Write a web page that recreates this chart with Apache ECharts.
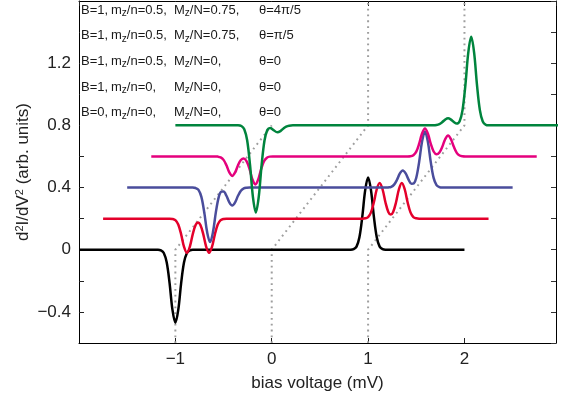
<!DOCTYPE html>
<html>
<head>
<meta charset="utf-8">
<script src="https://cdn.jsdelivr.net/npm/echarts@6/dist/echarts.min.js"></script>
<style>
html, body { margin: 0; padding: 0; background: #fff; }
#chart { width: 565px; height: 403px; }
</style>
</head>
<body>
<div id="chart"></div>
<script>
// curves, each offset by 0.2 above the previous one
const curveB0 = [
  [-2, 0], [-1.18, 0], [-1.15, -0.004], [-1.12, -0.021], [-1.09, -0.081], [-1.06, -0.215], [-1.03, -0.387],
  [-1, -0.47], [-0.97, -0.387], [-0.94, -0.215], [-0.91, -0.081], [-0.88, -0.021], [-0.85, -0.004], [-0.82, 0],
  [0.82, 0], [0.85, 0.004], [0.88, 0.02], [0.91, 0.08], [0.94, 0.213], [0.97, 0.383], [1, 0.465],
  [1.03, 0.383], [1.06, 0.213], [1.09, 0.08], [1.12, 0.02], [1.15, 0.004], [1.18, 0], [2, 0]
];
const curveB1m0 = [
  [-1.75, 0.2], [-1.06, 0.2], [-1.03, 0.198], [-1.0, 0.19], [-0.97, 0.162], [-0.94, 0.099], [-0.91, 0.019],
  [-0.88, -0.02], [-0.85, 0.019], [-0.82, 0.099], [-0.79, 0.159], [-0.765, 0.175], [-0.74, 0.159], [-0.71, 0.099],
  [-0.68, 0.019], [-0.65, -0.02], [-0.62, 0.019], [-0.59, 0.099], [-0.56, 0.162], [-0.53, 0.19], [-0.5, 0.198],
  [-0.47, 0.2], [0.94, 0.2], [0.97, 0.202], [1.0, 0.21], [1.03, 0.24], [1.06, 0.305], [1.09, 0.389], [1.12, 0.43],
  [1.15, 0.389], [1.18, 0.305], [1.21, 0.243], [1.235, 0.226], [1.26, 0.243], [1.29, 0.305], [1.32, 0.389],
  [1.35, 0.43], [1.38, 0.389], [1.41, 0.305], [1.44, 0.24], [1.47, 0.21], [1.5, 0.202], [1.53, 0.2], [2.25, 0.2]
];
const curveB1m5 = [
  [-1.5, 0.4], [-0.82, 0.4], [-0.79, 0.397], [-0.76, 0.385], [-0.73, 0.34], [-0.7, 0.24], [-0.67, 0.112],
  [-0.64, 0.05], [-0.61, 0.112], [-0.58, 0.24], [-0.55, 0.338], [-0.525, 0.373], [-0.5, 0.375], [-0.47, 0.347],
  [-0.44, 0.305], [-0.41, 0.285], [-0.38, 0.305], [-0.35, 0.347], [-0.32, 0.38], [-0.29, 0.395], [-0.26, 0.399],
  [-0.23, 0.4], [1.18, 0.4], [1.21, 0.401], [1.24, 0.405], [1.27, 0.419], [1.3, 0.45], [1.33, 0.491], [1.36, 0.51],
  [1.39, 0.491], [1.42, 0.451], [1.45, 0.424], [1.475, 0.427], [1.5, 0.463], [1.53, 0.565], [1.56, 0.696],
  [1.59, 0.76], [1.62, 0.696], [1.65, 0.565], [1.68, 0.462], [1.71, 0.416], [1.74, 0.403], [1.77, 0.4], [2.5, 0.4]
];
const curveTheta1 = [
  [-1.25, 0.6], [-0.59, 0.6], [-0.56, 0.599], [-0.53, 0.594], [-0.5, 0.578], [-0.47, 0.543], [-0.44, 0.497],
  [-0.41, 0.475], [-0.38, 0.497], [-0.35, 0.543], [-0.32, 0.577], [-0.29, 0.587], [-0.26, 0.568], [-0.23, 0.518],
  [-0.2, 0.452], [-0.17, 0.42], [-0.14, 0.452], [-0.11, 0.518], [-0.08, 0.569], [-0.05, 0.592], [-0.02, 0.599],
  [0.01, 0.6], [1.41, 0.6], [1.44, 0.601], [1.47, 0.608], [1.5, 0.631], [1.53, 0.682], [1.56, 0.748], [1.59, 0.78],
  [1.62, 0.748], [1.65, 0.682], [1.68, 0.632], [1.71, 0.614], [1.74, 0.625], [1.77, 0.662], [1.8, 0.711],
  [1.83, 0.735], [1.86, 0.711], [1.89, 0.662], [1.92, 0.623], [1.95, 0.606], [1.98, 0.601], [2.01, 0.6], [2.75, 0.6]
];
const curveTheta4 = [
  [-1.0, 0.8], [-0.35, 0.8], [-0.315, 0.796], [-0.285, 0.775], [-0.255, 0.704], [-0.225, 0.544], [-0.195, 0.339],
  [-0.165, 0.24], [-0.135, 0.339], [-0.105, 0.544], [-0.075, 0.703], [-0.045, 0.771], [-0.015, 0.783],
  [0.015, 0.771], [0.06, 0.755], [0.09, 0.763], [0.12, 0.779], [0.15, 0.792], [0.18, 0.798], [0.22, 0.8],
  [1.65, 0.8], [1.68, 0.8], [1.71, 0.802], [1.74, 0.808], [1.77, 0.821], [1.8, 0.837], [1.83, 0.845],
  [1.86, 0.837], [1.89, 0.822], [1.92, 0.812], [1.95, 0.827], [1.98, 0.898], [2.01, 1.061], [2.04, 1.269],
  [2.07, 1.37], [2.1, 1.269], [2.13, 1.061], [2.16, 0.898], [2.19, 0.825], [2.22, 0.804], [2.25, 0.8], [3.0, 0.8]
];

// gray dotted guide lines
const guideA = [[-1, -0.6], [-1, 0], [0, 0.8]];
const guideB = [[0, -0.6], [0, 0], [1, 0.8], [1, 1.6]];
const guideC = [[1, -0.6], [1, 0], [2, 0.8], [2, 1.6]];

// legend rows, top to bottom, split in columns
const labelRows = [
  ['B=1,', 'm{sub|z}/n=0.5,', 'M{sub|z}/N=0.75,', 'θ=4π/5'],
  ['B=1,', 'm{sub|z}/n=0.5,', 'M{sub|z}/N=0.75,', 'θ=π/5'],
  ['B=1,', 'm{sub|z}/n=0.5,', 'M{sub|z}/N=0,', 'θ=0'],
  ['B=1,', 'm{sub|z}/n=0,', 'M{sub|z}/N=0,', 'θ=0'],
  ['B=0,', 'm{sub|z}/n=0,', 'M{sub|z}/N=0,', 'θ=0']
];

const font = '"Liberation Sans", Arial, Helvetica, sans-serif';
const chart = echarts.init(document.getElementById('chart'));

function minus(v) {
  return v < 0 ? '\u2212' + String(-v) : String(v);
}

const colX = [81, 111, 174, 259];
const rowY = [10, 35.5, 61, 87, 112.5];
// white legend box: hides the axis ticks underneath, curves stay on top
const graphics = [{
  type: 'rect',
  z: 1,
  shape: { x: 80, y: 2, width: 232, height: 126 },
  style: { fill: '#fff' }
}];
labelRows.forEach((row, r) => {
  row.forEach((t, c) => {
    graphics.push({
      type: 'text',
      x: colX[c],
      y: rowY[r],
      z: 100,
      style: {
        text: t,
        fontSize: 13,
        fontFamily: font,
        fill: '#1a1a1a',
        verticalAlign: 'middle',
        rich: {
          sub: { fontSize: 10, fontFamily: font, fill: '#1a1a1a', padding: [7, 0, 0, 0] }
        }
      }
    });
  });
});

function curve(data, color) {
  return {
    type: 'line',
    data: data,
    showSymbol: false,
    smooth: 0.35,
    lineStyle: { color: color, width: 2.5 },
    z: 5
  };
}
function guide(data) {
  return {
    type: 'line',
    data: data,
    showSymbol: false,
    lineStyle: { color: '#9e9e9e', width: 2, type: [1.8, 4] },
    z: 2
  };
}

const axisLine = { onZero: false, lineStyle: { color: '#000', width: 1 } };

const option = {
  animation: false,
  grid: { left: 79, right: 9, top: 1, bottom: 60 },
  xAxis: [{
    type: 'value',
    min: -2,
    max: 2.95,
    interval: 1,
    name: 'bias voltage (mV)',
    nameLocation: 'middle',
    nameGap: 32,
    nameTextStyle: { fontSize: 17, fontFamily: font, color: '#222' },
    axisLine: axisLine,
    axisTick: { inside: true, length: 5, lineStyle: { color: '#222' } },
    axisLabel: {
      fontSize: 17, fontFamily: font, color: '#222', margin: 8,
      showMinLabel: false, showMaxLabel: false,
      formatter: minus
    },
    splitLine: { show: false }
  }, {
    type: 'value',
    position: 'top',
    min: -2,
    max: 2.95,
    interval: 1,
    axisLine: axisLine,
    axisTick: { inside: true, length: 5, lineStyle: { color: '#222' } },
    axisLabel: { show: false },
    splitLine: { show: false }
  }],
  yAxis: [{
    type: 'value',
    min: -0.6,
    max: 1.6,
    interval: 0.2,
    name: 'd{sup|2}I/dV{sup|2} (arb. units)',
    nameLocation: 'middle',
    nameGap: 46,
    nameMoveOverlap: false,
    nameTextStyle: {
      fontSize: 17, fontFamily: font, color: '#222',
      rich: { sup: { fontSize: 11, fontFamily: font, color: '#222', padding: [0, 0, 8, 0] } }
    },
    axisLine: axisLine,
    axisTick: { inside: true, length: 5, lineStyle: { color: '#222' } },
    axisLabel: {
      fontSize: 17, fontFamily: font, color: '#222', margin: 8,
      showMinLabel: false, showMaxLabel: false,
      formatter: function (v) {
        const r = Math.round(v * 10) / 10;
        const q = r / 0.4;
        if (Math.abs(q - Math.round(q)) > 1e-6) return '';
        return minus(r);
      }
    },
    splitLine: { show: false }
  }, {
    type: 'value',
    position: 'right',
    min: -0.6,
    max: 1.6,
    interval: 0.2,
    axisLine: axisLine,
    axisTick: { inside: true, length: 5, lineStyle: { color: '#333' } },
    axisLabel: { show: false },
    splitLine: { show: false }
  }],
  graphic: graphics,
  series: [
    guide(guideA),
    guide(guideB),
    guide(guideC),
    curve(curveB0, '#000000'),
    curve(curveB1m0, '#e4002b'),
    curve(curveB1m5, '#4a4d9c'),
    curve(curveTheta1, '#e5007d'),
    curve(curveTheta4, '#00843d')
  ]
};
chart.setOption(option);
</script>
</body>
</html>
